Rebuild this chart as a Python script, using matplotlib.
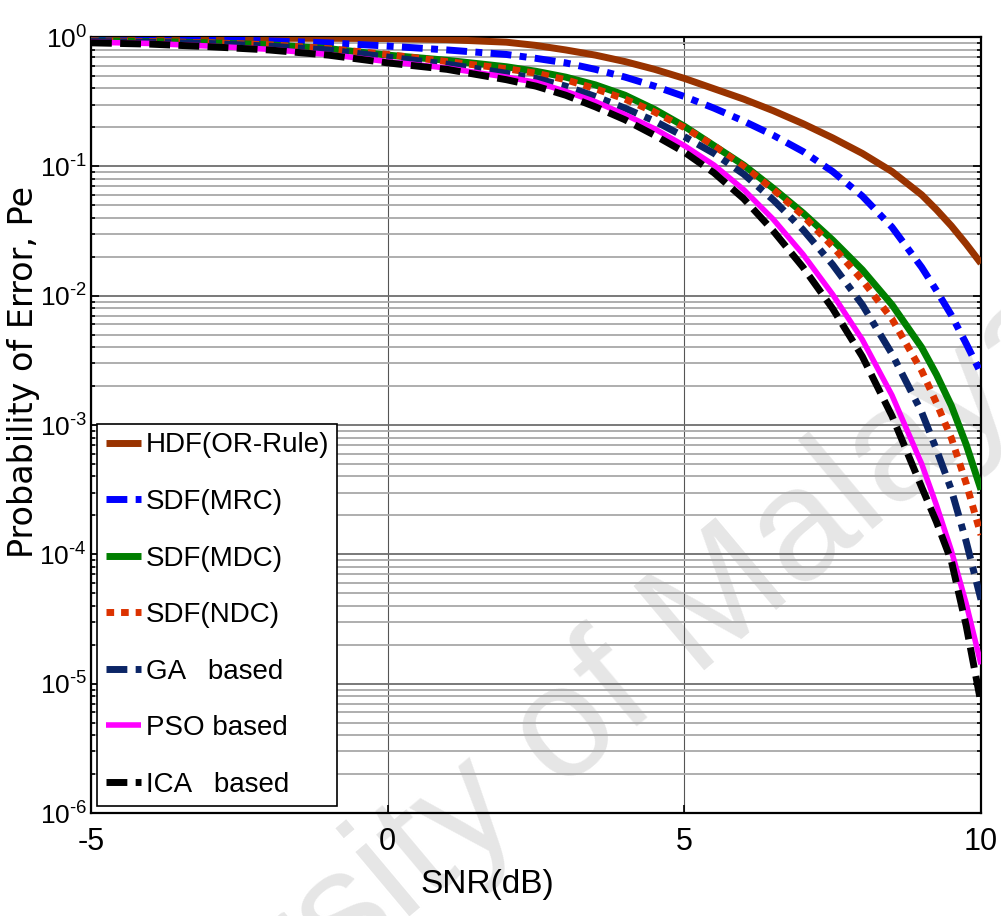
import numpy as np
import matplotlib
matplotlib.use("Agg")
import matplotlib.pyplot as plt
from matplotlib.ticker import FuncFormatter

# SNR grid (dB) and log10 of the error probability
snr = [-5, -4, -3, -2, -1, 0, 1, 2, 2.5, 3, 3.5, 4, 4.5, 5, 5.5, 6, 6.5, 7, 7.5, 8, 8.5, 9,
       9.25, 9.5, 9.75, 10]

hdf_or = [-0.01, -0.01, -0.01, -0.01, -0.01, -0.012, -0.02, -0.04, -0.065, -0.1, -0.14, -0.19,
          -0.25, -0.32, -0.4, -0.48, -0.57, -0.67, -0.78, -0.9, -1.04, -1.22,
          -1.335, -1.46, -1.6, -1.75]
sdf_mrc = [-0.01, -0.015, -0.02, -0.03, -0.045, -0.07, -0.1, -0.135, -0.165, -0.2, -0.25, -0.31,
           -0.38, -0.46, -0.55, -0.65, -0.76, -0.885, -1.04, -1.23, -1.47, -1.78,
           -1.96, -2.15, -2.37, -2.6]
sdf_mdc = [-0.03, -0.035, -0.045, -0.06, -0.09, -0.14, -0.18, -0.23, -0.265, -0.31, -0.37, -0.45,
           -0.56, -0.69, -0.84, -0.99, -1.17, -1.36, -1.57, -1.8, -2.07, -2.4,
           -2.61, -2.85, -3.15, -3.5]
sdf_ndc = [-0.03, -0.035, -0.045, -0.06, -0.09, -0.135, -0.19, -0.245, -0.28, -0.33, -0.4, -0.48,
           -0.58, -0.7, -0.84, -1.0, -1.18, -1.38, -1.62, -1.88, -2.18, -2.58,
           -2.83, -3.1, -3.45, -3.85]
ga_based = [-0.035, -0.04, -0.05, -0.07, -0.1, -0.155, -0.21, -0.28, -0.32, -0.38, -0.46, -0.55,
            -0.65, -0.77, -0.9, -1.06, -1.26, -1.49, -1.76, -2.07, -2.45, -2.9,
            -3.19, -3.5, -3.9, -4.35]
pso_based = [-0.04, -0.05, -0.07, -0.095, -0.135, -0.19, -0.24, -0.31, -0.35, -0.42, -0.5, -0.6,
             -0.71, -0.84, -0.99, -1.18, -1.41, -1.68, -1.99, -2.34, -2.77, -3.3,
             -3.62, -3.97, -4.38, -4.85]
ica_based = [-0.045, -0.055, -0.075, -0.1, -0.14, -0.2, -0.25, -0.33, -0.38, -0.45, -0.54, -0.64,
             -0.76, -0.89, -1.05, -1.25, -1.5, -1.78, -2.1, -2.47, -2.93, -3.48,
             -3.75, -4.05, -4.55, -5.15]

labels = ["HDF(OR-Rule)", "SDF(MRC)", "SDF(MDC)", "SDF(NDC)",
          "GA   based", "PSO based", "ICA   based"]

plt.rcParams["font.family"] = ["Liberation Sans", "DejaVu Sans"]
plt.rcParams["mathtext.fontset"] = "custom"
plt.rcParams["mathtext.rm"] = "Liberation Sans"
plt.rcParams["mathtext.it"] = "Liberation Sans"
plt.rcParams["axes.unicode_minus"] = False

fig = plt.figure(figsize=(10.01, 9.16), dpi=100)
ax = fig.add_axes([0.0909, 0.1124, 0.8891, 0.8472])

# watermark
ax.text(1.088, 0.621, "University of Malaya", transform=fig.transFigure,
        fontsize=115, color="#e6e6e6", rotation=40, rotation_mode="anchor",
        ha="right", va="baseline", clip_on=False, zorder=1)

series = [hdf_or, sdf_mrc, sdf_mdc, sdf_ndc, ga_based, pso_based, ica_based]
colors = ["#993300", "#0000ff", "#007f00", "#dc3200", "#0b2566", "#ff00ff", "#000000"]
dashes = [None, (3, 1.2, 1, 1.2), None, (1.1, 1.0), (3, 1.2, 1, 1.2), None, (3, 1.2)]
widths = [5, 5, 5, 5, 5, 4, 5]

for vals, lab, c, d, w in zip(series, labels, colors, dashes, widths):
    y = 10.0 ** np.array(vals)
    if d is None:
        ax.plot(snr, y, color=c, lw=w, label=lab, solid_capstyle="butt", zorder=3)
    else:
        ax.plot(snr, y, color=c, lw=w, label=lab, dashes=d, zorder=3)

ax.set_yscale("log")
ax.set_xlim(-5, 10)
ax.set_ylim(1e-6, 1)
ax.set_xticks([-5, 0, 5, 10])
ax.set_yticks([10.0 ** k for k in range(-6, 1)])


def dec_label(v, pos):
    e = int(round(np.log10(v)))
    return r"$\mathdefault{10^{\text{%d}}}$" % e


ax.yaxis.set_major_formatter(FuncFormatter(dec_label))

ax.grid(True, which="major", axis="y", color="#6e6e6e", lw=1.3)
ax.grid(True, which="minor", axis="y", color="#a8a8a8", lw=1.3)
ax.grid(True, which="major", axis="x", color="#555555", lw=0.8)

ax.tick_params(which="both", direction="in", top=True, right=True, width=1.2)
ax.tick_params(which="major", length=6)
ax.tick_params(which="minor", length=3)
ax.tick_params(axis="x", labelsize=22, pad=10)
ax.tick_params(axis="y", labelsize=19, pad=3)
for s in ax.spines.values():
    s.set_linewidth(1.6)

ax.set_xlabel("SNR(dB)", fontsize=24)
ax.xaxis.set_label_coords(0.445, -0.072)
ax.set_ylabel("Probability of Error, Pe", fontsize=24, family="DejaVu Sans")
ax.yaxis.set_label_coords(-0.0573, 0.568)

leg = ax.legend(loc="lower left", bbox_to_anchor=(0.007, 0.009), borderaxespad=0,
                fontsize=20, handlelength=1.26, handletextpad=0.18,
                labelspacing=1.1, borderpad=0.3, fancybox=False,
                framealpha=1, edgecolor="black")
leg.get_frame().set_linewidth(1.2)

fig.savefig("out.png", dpi=100)
